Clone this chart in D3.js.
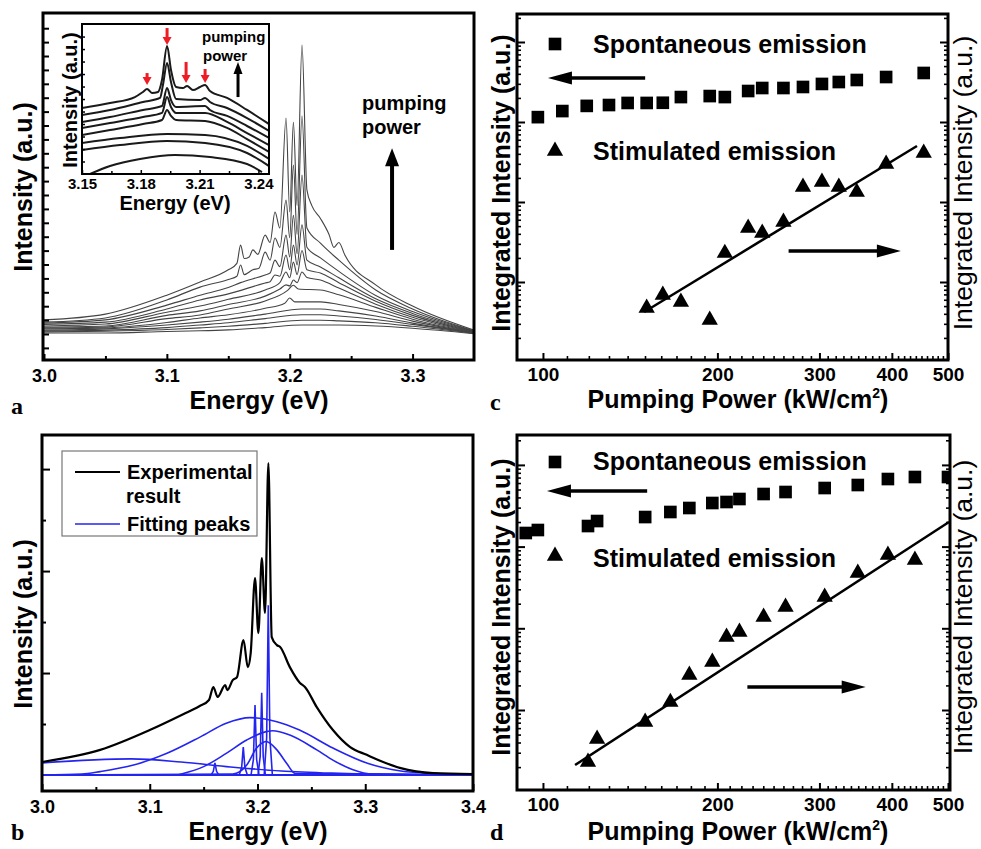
<!DOCTYPE html>
<html><head><meta charset="utf-8">
<script src="https://cdn.jsdelivr.net/npm/d3@7"></script>
<style>body{margin:0;background:#fff}</style>
</head><body><svg id="fig" width="981" height="849"></svg>
<script>
// ---------------- DATA ----------------
// Panel a: spectra [energy eV, intensity a.u.] (0 = highest pumping power)
const specA0 = [[3.00,4.4],[3.05,6.2],[3.10,12.1],[3.127,16.2],[3.15,20],[3.157,22],[3.16,27.7],[3.163,23.5],[3.167,24],[3.17,26.2],[3.174,24.8],[3.18,30.8],[3.184,28.5],[3.188,38],[3.192,33],[3.197,67.3],[3.200,38],[3.203,66],[3.206,40],[3.210,90],[3.214,44.9],[3.218,40],[3.225,36],[3.232,31],[3.236,27],[3.24,28.5],[3.245,24.5],[3.27,15.3],[3.30,8.7],[3.35,1.2]];
const specA1 = [[3.00,3.7],[3.05,5.0],[3.10,10.6],[3.127,14.6],[3.15,17],[3.157,18],[3.16,21.5],[3.163,18.5],[3.17,20],[3.175,20.5],[3.18,25.5],[3.184,23],[3.188,29.9],[3.192,27],[3.197,41.7],[3.200,30],[3.203,52.6],[3.206,31],[3.210,68],[3.214,33],[3.225,28.3],[3.24,23],[3.27,13.7],[3.30,7.8],[3.35,1.0]];
const specA2 = [[3.00,3.4],[3.05,4.4],[3.10,9.0],[3.127,12.1],[3.15,14.5],[3.16,16],[3.18,18.4],[3.184,19],[3.188,23],[3.192,21],[3.197,30.8],[3.200,24],[3.203,37],[3.206,25],[3.210,49.5],[3.214,27],[3.225,23.7],[3.24,19.5],[3.27,12.0],[3.30,7.0],[3.35,0.9]];
const specA3 = [[3.00,3.0],[3.05,3.7],[3.10,7.8],[3.127,10.6],[3.15,12.5],[3.18,15.9],[3.184,16.3],[3.188,18.4],[3.192,18],[3.197,24.6],[3.200,20],[3.203,27.7],[3.206,21.5],[3.210,34],[3.214,23],[3.225,20.9],[3.24,17.5],[3.27,11.0],[3.30,6.4],[3.35,0.8]];
const specA4 = [[3.00,2.5],[3.05,3.1],[3.10,6.8],[3.127,8.7],[3.15,10.8],[3.18,13.7],[3.192,16],[3.197,19.3],[3.200,17.5],[3.203,22.4],[3.206,18.5],[3.210,26],[3.214,20],[3.225,19],[3.24,16],[3.27,10.2],[3.30,5.8],[3.35,0.7]];
const specA5 = [[3.00,2.2],[3.05,2.5],[3.10,5.8],[3.127,7.2],[3.15,9.2],[3.18,11.8],[3.192,14],[3.197,15.3],[3.200,15],[3.203,16.8],[3.206,16],[3.210,19.3],[3.214,17.6],[3.225,16.8],[3.24,14.3],[3.27,9.3],[3.30,5.2],[3.35,0.6]];
const specA6 = [[3.00,1.9],[3.05,2.2],[3.10,4.8],[3.127,5.9],[3.15,7.8],[3.18,10.3],[3.198,13.5],[3.203,15.2],[3.207,14],[3.225,13.7],[3.24,12.2],[3.27,8.3],[3.30,4.6],[3.35,0.5]];
const specA7 = [[3.00,1.6],[3.05,1.9],[3.10,3.6],[3.127,5.0],[3.15,6.0],[3.18,8.0],[3.196,9.6],[3.200,11.2],[3.204,10],[3.225,10],[3.24,9.2],[3.27,7.0],[3.30,4.0],[3.35,0.4]];
const specA8 = [[3.00,1.2],[3.05,1.6],[3.10,2.8],[3.127,3.7],[3.15,4.6],[3.18,6.2],[3.21,7.8],[3.225,7.8],[3.24,7.2],[3.27,5.6],[3.30,3.4],[3.35,0.3]];
const specA9 = [[3.00,0.9],[3.05,1.2],[3.10,2.0],[3.127,2.8],[3.15,3.5],[3.18,4.8],[3.21,6.0],[3.225,6.0],[3.24,5.6],[3.27,4.5],[3.30,3.0],[3.35,0.3]];
const specA10 = [[3.00,0.6],[3.05,0.9],[3.10,1.4],[3.127,1.9],[3.15,2.4],[3.18,3.3],[3.21,4.3],[3.225,4.3],[3.24,4.1],[3.27,3.5],[3.30,2.4],[3.35,0.2]];
const specA11 = [[3.00,0.3],[3.05,0.3],[3.10,0.8],[3.127,1.0],[3.15,1.3],[3.18,2.0],[3.21,2.8],[3.225,2.8],[3.24,2.8],[3.27,2.5],[3.30,1.8],[3.35,0.1]];
const spectraA = [specA0,specA1,specA2,specA3,specA4,specA5,specA6,specA7,specA8,specA9,specA10,specA11];
const ticksA = [3.0,3.1,3.2,3.3];
const minorTicksA = [3.05,3.15,3.25];
const pumpArrowA = [3.2833, 26.2, 57.9];   // energy, tail, tip

// Inset of a
const insetK0 = [[3.15,44],[3.1643,47.3],[3.177,51.3],[3.1811,54.7],[3.1832,56.7],[3.1857,54],[3.1888,54.7],[3.1908,62.7],[3.1934,85.3],[3.1954,69.3],[3.198,58],[3.2015,57.3],[3.2036,58.7],[3.2066,56],[3.2102,58],[3.2128,59.3],[3.2153,55.3],[3.224,50.7],[3.2342,42.7],[3.2454,33.3]];
const insetK1 = [[3.15,39.3],[3.1643,42.7],[3.1811,48],[3.1898,50.7],[3.1913,59.3],[3.1934,74],[3.1954,61.3],[3.198,50],[3.2102,49.3],[3.2128,50.7],[3.2153,48],[3.224,44],[3.2342,37.3],[3.2454,28.7]];
const insetK2 = [[3.15,34.7],[3.1643,38],[3.1811,42.7],[3.1908,45.3],[3.1934,57.3],[3.1954,49.3],[3.198,44.7],[3.2128,45.3],[3.2153,42.7],[3.224,38.7],[3.2342,32],[3.2454,24]];
const insetK3 = [[3.15,30.7],[3.1643,34],[3.1811,38],[3.1908,40.7],[3.1934,51.3],[3.1954,44.7],[3.198,40.7],[3.2128,40.7],[3.224,34.7],[3.2342,27.3],[3.2454,19.3]];
const insetK4 = [[3.15,26],[3.1643,29.3],[3.1811,33.3],[3.1908,36],[3.1934,42.7],[3.1954,38.7],[3.198,36],[3.2128,35.3],[3.224,30.7],[3.2342,23.3],[3.2454,14.7]];
const insetK5 = [[3.15,20.7],[3.1694,24],[3.1934,26.7],[3.2128,26],[3.2342,18.7],[3.2454,10]];
const insetK6 = [[3.15,16],[3.1694,19.3],[3.1934,22],[3.2128,20.7],[3.2342,14],[3.2454,5.3]];
const insetK7 = [[3.1541,0],[3.1643,5.3],[3.1796,10],[3.1974,12.7],[3.2153,11.3],[3.2342,6.7],[3.2418,1.3]];
const insetSpectra = [insetK0,insetK1,insetK2,insetK3,insetK4,insetK5,insetK6,insetK7];
const ticksInset = [3.15,3.18,3.21,3.24];
const minorTicksInset = [3.165,3.195,3.225];
const redArrows = [[3.1832,67.3,59.3],[3.1934,97.3,86],[3.2031,74.7,60.7],[3.2128,70,60.7]];
const insetArrow = [3.2296, 51.3, 74.7];

// Panel b
const expB = [[3.00,4.2],[3.054,8.1],[3.10,14.5],[3.131,19.6],[3.146,22.2],[3.155,24.2],[3.159,28.4],[3.163,25.2],[3.170,29],[3.172,27.4],[3.177,30.6],[3.181,31.6],[3.187,43.5],[3.191,34.8],[3.1937,39.4],[3.1977,63.5],[3.2008,45.8],[3.204,70],[3.207,52.3],[3.2101,100.6],[3.2132,44.5],[3.218,41.9],[3.221,41.3],[3.23,34.8],[3.2394,29.7],[3.244,28.4],[3.255,21.9],[3.27,14.5],[3.286,9],[3.3014,6.5],[3.332,2.3],[3.363,0.6],[3.40,0.3]];
const fitB1 = [[3.00,3.9],[3.083,5.2],[3.129,4.2],[3.175,2.6],[3.222,1.3],[3.269,0.6],[3.35,0.1],[3.40,0]];
const fitB2 = [[3.00,0],[3.037,0.3],[3.054,1.1],[3.085,3.2],[3.116,7.0],[3.147,12.3],[3.171,16.7],[3.193,18.5],[3.218,17.2],[3.239,14.5],[3.27,8.7],[3.302,3.8],[3.333,1.3],[3.364,0.5],[3.40,0.2]];
const fitB3 = [[3.00,0],[3.125,0],[3.131,0.5],[3.15,2.7],[3.171,7],[3.19,11.3],[3.208,14],[3.214,14.3],[3.23,12.9],[3.255,8.1],[3.27,4.8],[3.288,1.8],[3.307,0.3],[3.40,0]];
const fitB4 = [[3.00,0],[3.177,0.3],[3.19,3.2],[3.199,8.6],[3.208,10.8],[3.218,8.1],[3.227,3.8],[3.235,0.5],[3.40,0]];
const peakB1 = [[3.00,0],[3.157,0],[3.159,1.2],[3.1605,3.9],[3.162,1.2],[3.164,0],[3.40,0]];
const peakB2 = [[3.00,0],[3.183,0],[3.1853,2.5],[3.1868,9.0],[3.1883,2.5],[3.1906,0],[3.40,0]];
const peakB3 = [[3.00,0],[3.194,0],[3.1962,5],[3.1977,22.6],[3.1992,5],[3.2014,0],[3.40,0]];
const peakB4 = [[3.00,0],[3.2005,0],[3.2025,6],[3.2039,26.5],[3.2053,6],[3.2073,0],[3.40,0]];
const peakB5 = [[3.00,0],[3.2062,0],[3.2085,12],[3.2100,54.8],[3.2115,12],[3.2138,0],[3.40,0]];
const ticksB = [3.0,3.1,3.2,3.3,3.4];
const minorTicksB = [3.05,3.15,3.25,3.35];

// Panel c
const powerC = [98,108,119,130,140,151,161,173,194,206,226,239,260,281,303,324,348,391,454];
const spontC = [1150,1370,1590,1630,1730,1730,1740,2050,2110,2050,2440,2660,2660,2740,2990,3160,3350,3650,4100];
const stimPowerC = [151,161,173,194,206,226,239,260,281,303,324,348,391,454];
const stimC = [4.73,6.88,5.62,3.35,23.0,47.3,41.0,56.2,154,178,154,133,299,410];
const fitC = [[149.5,4.22],[442,501]];
const arrowsC = [[150.1,102.0,3548],[265.4,414.6,24.4]]; // from power, to power, level

// Panel d
const powerD = [93.4,98,119.6,124,150.1,165.9,178.9,196,207.4,218.3,240.3,262.2,306.3,349.4,393.8,438.4,500];
const spontD = [1467,1596,1786,2056,2301,2652,2968,3417,3515,3824,4403,4658,5212,5673,6715,7110,7110];
const stimPowerD = [119.6,124,150.1,165.9,178.9,196,207.4,218.3,240.3,262.2,306.3,349.4,393.8,438.4];
const stimD = [2.31,4.42,7.13,12.5,26.8,38.7,78.3,90.1,137.5,182.3,241.6,475,789,685];
const fitD = [[113.6,2.12],[502,2000]];
const arrowsD = [[151.3,101.6,4786],[225.3,360.5,19.1]];

const powerTicks = [100,200,300,400,500];

// ---------------- DRAWING ----------------
const SANS = "'Liberation Sans', Arial, Helvetica, sans-serif";
const SERIF = "'Liberation Serif', 'Times New Roman', serif";
const BLUE = "#2424f0";
const svg = d3.select("#fig");
svg.append("rect").attr("width",981).attr("height",849).attr("fill","#fff");
const defs = svg.append("defs");
function clip(id,x0,y0,x1,y1){defs.append("clipPath").attr("id",id).append("rect").attr("x",x0).attr("y",y0).attr("width",x1-x0).attr("height",y1-y0);return `url(#${id})`;}
function frame(x0,y0,x1,y1,w){svg.append("rect").attr("x",x0).attr("y",y0).attr("width",x1-x0).attr("height",y1-y0).attr("fill","none").attr("stroke","#000").attr("stroke-width",w);}
function styleAxis(g,size,lw){g.select(".domain").remove();g.selectAll("line").attr("stroke","#000").attr("stroke-width",lw||2);
  g.selectAll("text").attr("font-family",SANS).attr("font-weight","bold").attr("font-size",size).attr("fill","#000");}
function txt(x,y,s,size,opt){opt=opt||{};const t=svg.append("text").attr("x",x).attr("y",y).text(s)
  .attr("font-family",opt.family||SANS).attr("font-weight",opt.weight||"bold").attr("font-size",size)
  .attr("text-anchor",opt.anchor||"start").attr("fill",opt.fill||"#000");
  if(opt.rot) t.attr("transform",`rotate(-90,${x},${y})`);return t;}
function arrow(x1,y1,x2,y2,sw,hl,hw,color){
  const dx=x2-x1,dy=y2-y1,L=Math.hypot(dx,dy),ux=dx/L,uy=dy/L;const bx=x2-ux*hl,by=y2-uy*hl;
  svg.append("line").attr("x1",x1).attr("y1",y1).attr("x2",bx+ux*1).attr("y2",by+uy*1).attr("stroke",color).attr("stroke-width",sw);
  svg.append("polygon").attr("points",[[x2,y2],[bx-uy*hw/2,by+ux*hw/2],[bx+uy*hw/2,by-ux*hw/2]].map(p=>p.join(",")).join(" ")).attr("fill",color);}

// ===== Panel a =====
const xA = d3.scaleLinear().domain([3.0,3.35]).range([44,474]);
const yA = d3.scaleLinear().domain([-8.1,100]).range([360,13]);
const lineA = d3.line().x(d=>xA(d[0])).y(d=>yA(d[1])).curve(d3.curveMonotoneX);
const gA = svg.append("g").attr("clip-path",clip("ca",44,13,474,360));
gA.selectAll("path").data(spectraA).join("path").attr("d",lineA).attr("fill","none").attr("stroke","#444").attr("stroke-width",1.1);
svg.append("g").attr("transform","translate(0,360)").call(d3.axisBottom(xA).tickValues(ticksA).tickSize(-6).tickPadding(9).tickFormat(d3.format(".1f"))).call(g=>styleAxis(g,18));
svg.append("g").attr("transform","translate(0,360)").call(d3.axisBottom(xA).tickValues(minorTicksA).tickSize(-4).tickFormat("")).call(g=>styleAxis(g,18));
svg.append("g").attr("transform","translate(44,0)").call(d3.axisLeft(yA).tickValues(d3.range(-1,23).map(k=>k*4.33)).tickSize(-5).tickFormat("")).call(g=>styleAxis(g,18));
frame(43,13,474,360,3);
arrow(xA(pumpArrowA[0]),yA(pumpArrowA[1]),xA(pumpArrowA[0]),yA(pumpArrowA[2]),4,18,14,"#000");
txt(362,110,"pumping",20);
txt(362,134,"power",20);
txt(259,409,"Energy (eV)",25,{anchor:"middle"});
txt(32,187,"Intensity (a.u.)",25,{anchor:"middle",rot:true});
txt(11,414,"a",24,{family:SERIF});

// inset
const xI = d3.scaleLinear().domain([3.15,3.2454]).range([82,269]);
const yI = d3.scaleLinear().domain([0,100]).range([174,24]);
const lineI = d3.line().x(d=>xI(d[0])).y(d=>yI(d[1])).curve(d3.curveMonotoneX);
svg.append("rect").attr("x",82).attr("y",24).attr("width",187).attr("height",150).attr("fill","#fff");
const gI = svg.append("g").attr("clip-path",clip("ci",82,24,269,174));
gI.selectAll("path").data(insetSpectra).join("path").attr("d",lineI).attr("fill","none").attr("stroke","#1a1a1a").attr("stroke-width",2);
svg.append("g").attr("transform","translate(0,174)").call(d3.axisBottom(xI).tickValues(ticksInset).tickSize(-4).tickPadding(4).tickFormat(d3.format(".2f"))).call(g=>styleAxis(g,15,1.5));
svg.append("g").attr("transform","translate(0,174)").call(d3.axisBottom(xI).tickValues(minorTicksInset).tickSize(-3).tickFormat("")).call(g=>styleAxis(g,15,1.5));
svg.append("g").attr("transform","translate(82,0)").call(d3.axisLeft(yI).tickValues(d3.range(1,12).map(k=>k*8.33)).tickSize(-3).tickFormat("")).call(g=>styleAxis(g,15,1.5));
frame(82,24,269,174,2);
redArrows.forEach(a=>arrow(xI(a[0]),yI(a[1]),xI(a[0]),yI(a[2]),3,8,9,"#ee1c24"));
arrow(xI(insetArrow[0]),yI(insetArrow[1]),xI(insetArrow[0]),yI(insetArrow[2]),3,12,9,"#000");
txt(202,42,"pumping",15);
txt(203,61,"power",15);
txt(175,210,"Energy (eV)",20,{anchor:"middle"});
txt(77,100,"Intensity (a.u.)",20,{anchor:"middle",rot:true});

// ===== Panel b =====
const xB = d3.scaleLinear().domain([3.0,3.4]).range([42,473]);
const yB = d3.scaleLinear().domain([-5.16,109.7]).range([791,435]);
const lineB = d3.line().x(d=>xB(d[0])).y(d=>yB(d[1])).curve(d3.curveMonotoneX);
const lineBL = d3.line().x(d=>xB(d[0])).y(d=>yB(d[1]));
const gB = svg.append("g").attr("clip-path",clip("cb",42,435,473,791));
gB.selectAll("path.fit").data([fitB1,fitB2,fitB3,fitB4]).join("path").attr("class","fit").attr("d",lineB).attr("fill","none").attr("stroke",BLUE).attr("stroke-width",1.6);
gB.selectAll("path.pk").data([peakB1,peakB2,peakB3,peakB4,peakB5]).join("path").attr("class","pk").attr("d",lineBL).attr("fill","none").attr("stroke",BLUE).attr("stroke-width",1.6);
gB.append("path").datum(expB).attr("d",lineB).attr("fill","none").attr("stroke","#000").attr("stroke-width",2.2);
svg.append("g").attr("transform","translate(0,791)").call(d3.axisBottom(xB).tickValues(ticksB).tickSize(-7).tickPadding(9).tickFormat(d3.format(".1f"))).call(g=>styleAxis(g,18));
svg.append("g").attr("transform","translate(0,791)").call(d3.axisBottom(xB).tickValues(minorTicksB).tickSize(-4).tickFormat("")).call(g=>styleAxis(g,18));
svg.append("g").attr("transform","translate(42,0)").call(d3.axisLeft(yB).tickValues([32.9,65.8,98.7]).tickSize(-8).tickFormat("")).call(g=>styleAxis(g,18));
svg.append("g").attr("transform","translate(42,0)").call(d3.axisLeft(yB).tickValues([16.45,49.35,82.25]).tickSize(-4).tickFormat("")).call(g=>styleAxis(g,18));
frame(42,435,473,791,3);
svg.append("rect").attr("x",62).attr("y",451).attr("width",195).attr("height",85).attr("fill","#fff").attr("stroke","#777").attr("stroke-width",1.2);
svg.append("line").attr("x1",75).attr("x2",120).attr("y1",472).attr("y2",472).attr("stroke","#000").attr("stroke-width",2.2);
svg.append("line").attr("x1",75).attr("x2",120).attr("y1",524).attr("y2",524).attr("stroke",BLUE).attr("stroke-width",1.6);
txt(127,479,"Experimental",20);
txt(126,503,"result",20);
txt(127,531,"Fitting peaks",20);
txt(258,840,"Energy (eV)",25,{anchor:"middle"});
txt(32,624,"Intensity (a.u.)",25,{anchor:"middle",rot:true});
txt(11,840,"b",24,{family:SERIF});

// ===== Panels c & d =====
function logPanel(o){
  const x = d3.scaleLog().domain([90.2,500]).range([517,948]);
  const y = d3.scaleLog().domain(o.yDom).range([o.y1,o.y0]);
  const g = svg.append("g").attr("clip-path",clip(o.id,517,o.y0,o.xr,o.y1));
  g.append("path").datum(o.fit).attr("d",d3.line().x(d=>x(d[0])).y(d=>y(d[1]))).attr("stroke","#000").attr("stroke-width",2.5).attr("fill","none");
  g.selectAll("path.sq").data(o.power).join("path").attr("class","sq").attr("d",d3.symbol(d3.symbolSquare,160)())
    .attr("transform",(d,i)=>`translate(${x(d)},${y(o.spont[i])})`).attr("fill","#000");
  g.selectAll("path.tr").data(o.stimP).join("path").attr("class","tr").attr("d",d3.symbol(d3.symbolTriangle,115)())
    .attr("transform",(d,i)=>`translate(${x(d)},${y(o.stim[i])})`).attr("fill","#000");
  const minorX=[]; for(let v=90;v<500;v+=10){ if(!powerTicks.includes(v)) minorX.push(v);} 
  svg.append("g").attr("transform",`translate(0,${o.y1})`).call(d3.axisBottom(x).tickValues(powerTicks).tickSize(-7).tickPadding(7.5).tickFormat(d3.format("d"))).call(g=>styleAxis(g,19));
  svg.append("g").attr("transform",`translate(0,${o.y1})`).call(d3.axisBottom(x).tickValues(minorX).tickSize(-4).tickFormat("")).call(g=>styleAxis(g,19,1.6));
  const dec=[10,100,1000,10000]; const minY=[];
  [1,10,100,1000,10000].forEach(p=>{for(let k=2;k<=9;k++){const v=k*p; if(v>o.yDom[0]&&v<o.yDom[1]) minY.push(v);}});
  [[517,d3.axisLeft],[o.xr,d3.axisRight]].forEach(([px,ax])=>{
    svg.append("g").attr("transform",`translate(${px},0)`).call(ax(y).tickValues(dec).tickSize(-8).tickFormat("")).call(g=>styleAxis(g,19));
    svg.append("g").attr("transform",`translate(${px},0)`).call(ax(y).tickValues(minY).tickSize(-4).tickFormat("")).call(g=>styleAxis(g,19,1.6));
  });
  frame(517,o.y0,o.xr,o.y1,3);
  o.arrows.forEach(a=>arrow(x(a[0]),y(a[2]),x(a[1]),y(a[2]),3.5,24,13,"#000"));
  svg.append("path").attr("d",d3.symbol(d3.symbolSquare,160)()).attr("transform",`translate(555,${o.legY1})`).attr("fill","#000");
  svg.append("path").attr("d",d3.symbol(d3.symbolTriangle,115)()).attr("transform",`translate(555,${o.legY2})`).attr("fill","#000");
  txt(593,o.legT1,"Spontaneous emission",25);
  txt(593,o.legT2,"Stimulated emission",25);
  const t = txt(738,o.titleY,"Pumping Power (kW/cm",25,{anchor:"middle"});
  t.append("tspan").attr("dy",-10).attr("font-size",14).text("2");
  t.append("tspan").attr("dy",10).text(")");
  txt(510,o.labY,"Integrated Intensity (a.u.)",25,{anchor:"middle",rot:true});
  txt(972,o.labY,"Integrated Intensity (a.u.)",26.5,{anchor:"middle",rot:true,weight:"normal"});
  txt(490,o.letterY,o.letter,24,{family:SERIF});
}
logPanel({id:"cc",y0:14,y1:360,xr:948,yDom:[Math.pow(10,0.025),Math.pow(10,4.35)],power:powerC,spont:spontC,stimP:stimPowerC,stim:stimC,fit:fitC,arrows:arrowsC,
  legY1:44,legY2:151,legT1:53,legT2:160,titleY:408,labY:183,letter:"c",letterY:410});
logPanel({id:"cd",y0:435,y1:790,xr:950,yDom:[Math.pow(10,0.0208),Math.pow(10,4.366)],power:powerD,spont:spontD,stimP:stimPowerD,stim:stimD,fit:fitD,arrows:arrowsD,
  legY1:462,legY2:556,legT1:470,legT2:567,titleY:840,labY:607,letter:"d",letterY:840});
</script></body></html>
